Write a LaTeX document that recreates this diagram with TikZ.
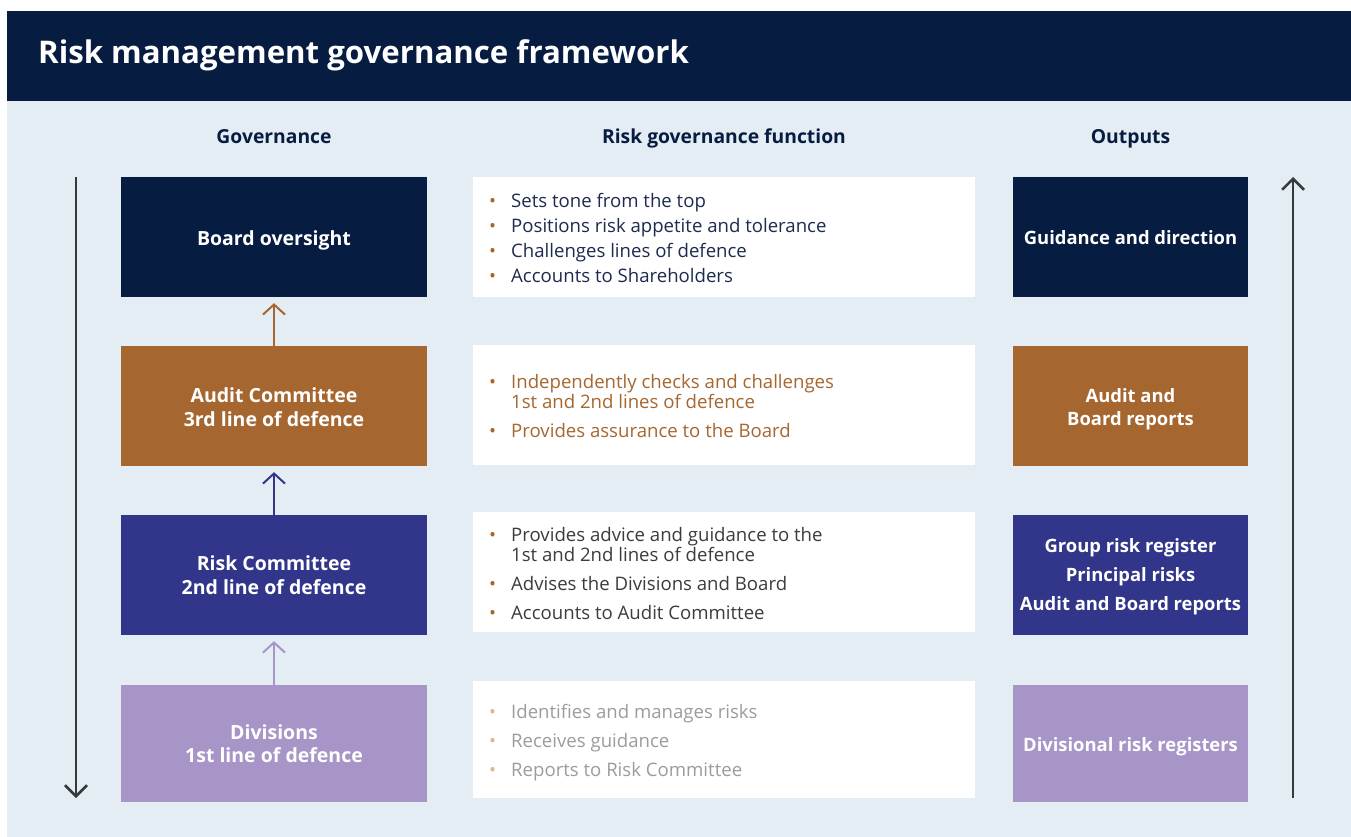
\documentclass[tikz,border=0pt]{standalone}
\usepackage{fontspec}
\setmainfont{Open Sans}
\newcommand\semib{\bfseries}
\usetikzlibrary{arrows.meta}
\definecolor{navy}{HTML}{071C41}
\definecolor{ochre}{HTML}{A66630}
\definecolor{indigo}{HTML}{32368A}
\definecolor{lav}{HTML}{A795C8}
\definecolor{bg}{HTML}{E5EDF4}
\definecolor{arrgray}{HTML}{333B3D}
\definecolor{txtnavy}{HTML}{1E2B4F}
\definecolor{txtdark}{HTML}{3A3C40}
\definecolor{txtlight}{HTML}{9A9C9F}
\definecolor{bullight}{HTML}{D8B79A}
\newcommand\bulitem[5]{%
  \node[bulnode, text=#2] (#1b) at (489,#4) {•};
  \node[txtnode, text=#3] (#1) at (511,#4) {#5};}
\begin{document}
\begin{tikzpicture}[x=1pt,y=-1pt,
  gbox/.style={minimum width=306pt, minimum height=120pt, inner sep=0pt},
  obox/.style={minimum width=235pt, minimum height=120pt, inner sep=0pt},
  gtext/.style={inner sep=0pt, align=center, text=white, font=\semib\fontsize{19.5}{23.5}\selectfont},
  otext/.style={inner sep=0pt, align=center, text=white, font=\semib\fontsize{18.4}{23.5}\selectfont},
  fbox/.style={fill=white, minimum width=502pt, minimum height=120pt, inner sep=0pt},
  colhead/.style={anchor=base, text=navy, font=\semib\fontsize{19.3}{23}\selectfont, inner sep=0pt},
  bulnode/.style={anchor=base west, inner sep=0pt, font=\fontsize{18.6}{22}\selectfont},
  txtnode/.style={anchor=base west, inner sep=0pt, font=\fontsize{18.6}{22}\selectfont},
  smallarr/.style={line width=2pt, -{Straight Barb[length=10pt,width=22pt,line width=2pt]}, shorten >=6pt},
  longarr/.style={line width=2.5pt, arrgray, -{Straight Barb[length=11pt,width=22pt,line width=2.5pt]}}
]
\useasboundingbox (0,0) rectangle (1351,837);
\fill[white] (0,0) rectangle (1351,837);
\fill[bg] (7,101) rectangle (1351,837);
\fill[navy] (7,11) rectangle (1351,101);

\node[anchor=base west, inner sep=0pt, text=white, font=\bfseries\fontsize{31.2}{35}\selectfont] (title) at (38,64) {Risk management governance framework};

\node[colhead] (h1) at (274,144) {Governance};
\node[colhead] (h2) at (724,144) {Risk governance function};
\node[colhead] (h3) at (1130.5,144) {Outputs};

% governance column
\node[gbox, fill=navy] (board) at (274,237) {};
\node[gtext, yshift=-3pt] (boardt) at (board) {Board oversight};
\node[gbox, fill=ochre] (aud) at (274,406) {};
\node[gtext, yshift=-1pt] (audt) at (aud) {Audit Committee\\3rd line of defence};
\node[gbox, fill=indigo] (risk) at (274,575) {};
\node[gtext] (riskt) at (risk) {Risk Committee\\2nd line of defence};
\node[gbox, fill=lav, minimum height=117pt] (div) at (274,743.5) {};
\node[gtext] (divt) at (div) {Divisions\\1st line of defence};

% function column
\node[fbox] (f1) at (724,237) {};
\node[fbox] (f2) at (724,405) {};
\node[fbox] (f3) at (724,572) {};
\node[fbox, minimum height=117pt] (f4) at (724,739.5) {};

\bulitem{a1}{ochre}{txtnavy}{207.5}{Sets tone from the top}
\bulitem{a2}{ochre}{txtnavy}{232.5}{Positions risk appetite and tolerance}
\bulitem{a3}{ochre}{txtnavy}{257.5}{Challenges lines of defence}
\bulitem{a4}{ochre}{txtnavy}{282.5}{Accounts to Shareholders}

\bulitem{b1}{ochre}{ochre}{388.5}{Independently checks and challenges}
\node[txtnode, text=ochre] (b1c) at (511,408.5) {1st and 2nd lines of defence};
\bulitem{b2}{ochre}{ochre}{437.5}{Provides assurance to the Board}

\bulitem{c1}{ochre}{txtdark}{541}{Provides advice and guidance to the}
\node[txtnode, text=txtdark] (c1c) at (511,561) {1st and 2nd lines of defence};
\bulitem{c2}{ochre}{txtdark}{590}{Advises the Divisions and Board}
\bulitem{c3}{ochre}{txtdark}{619}{Accounts to Audit Committee}

\bulitem{d1}{bullight}{txtlight}{718.5}{Identifies and manages risks}
\bulitem{d2}{bullight}{txtlight}{747.5}{Receives guidance}
\bulitem{d3}{bullight}{txtlight}{776.5}{Reports to Risk Committee}

% outputs column
\node[obox, fill=navy] (o1) at (1130.5,237) {};
\node[otext, yshift=-1pt] (o1t) at (o1) {Guidance and direction};
\node[obox, fill=ochre] (o2) at (1130.5,406) {};
\node[otext, yshift=-3pt] (o2t) at (o2) {Audit and\\Board reports};
\node[obox, fill=indigo] (o3) at (1130.5,575) {};
\node[otext, yshift=-2pt, font=\semib\fontsize{18.4}{29}\selectfont] (o3t) at (o3) {Group risk register\\Principal risks\\Audit and Board reports};
\node[obox, fill=lav, minimum height=117pt] (o4) at (1130.5,743.5) {};
\node[otext, yshift=-3pt] (o4t) at (o4) {Divisional risk registers};

% small arrows
\draw[smallarr, ochre] (aud.north) -- (board.south);
\draw[smallarr, indigo] (risk.north) -- (aud.south);
\draw[smallarr, lav] (div.north) -- (risk.south);

% long arrows
\coordinate (lt) at (76,177);
\coordinate (lb) at (76,798);
\coordinate (rt) at (1293,177);
\coordinate (rb) at (1293,798);
\draw[longarr] (lt) -- (lb);
\draw[longarr] (rb) -- (rt);
\end{tikzpicture}
\end{document}
